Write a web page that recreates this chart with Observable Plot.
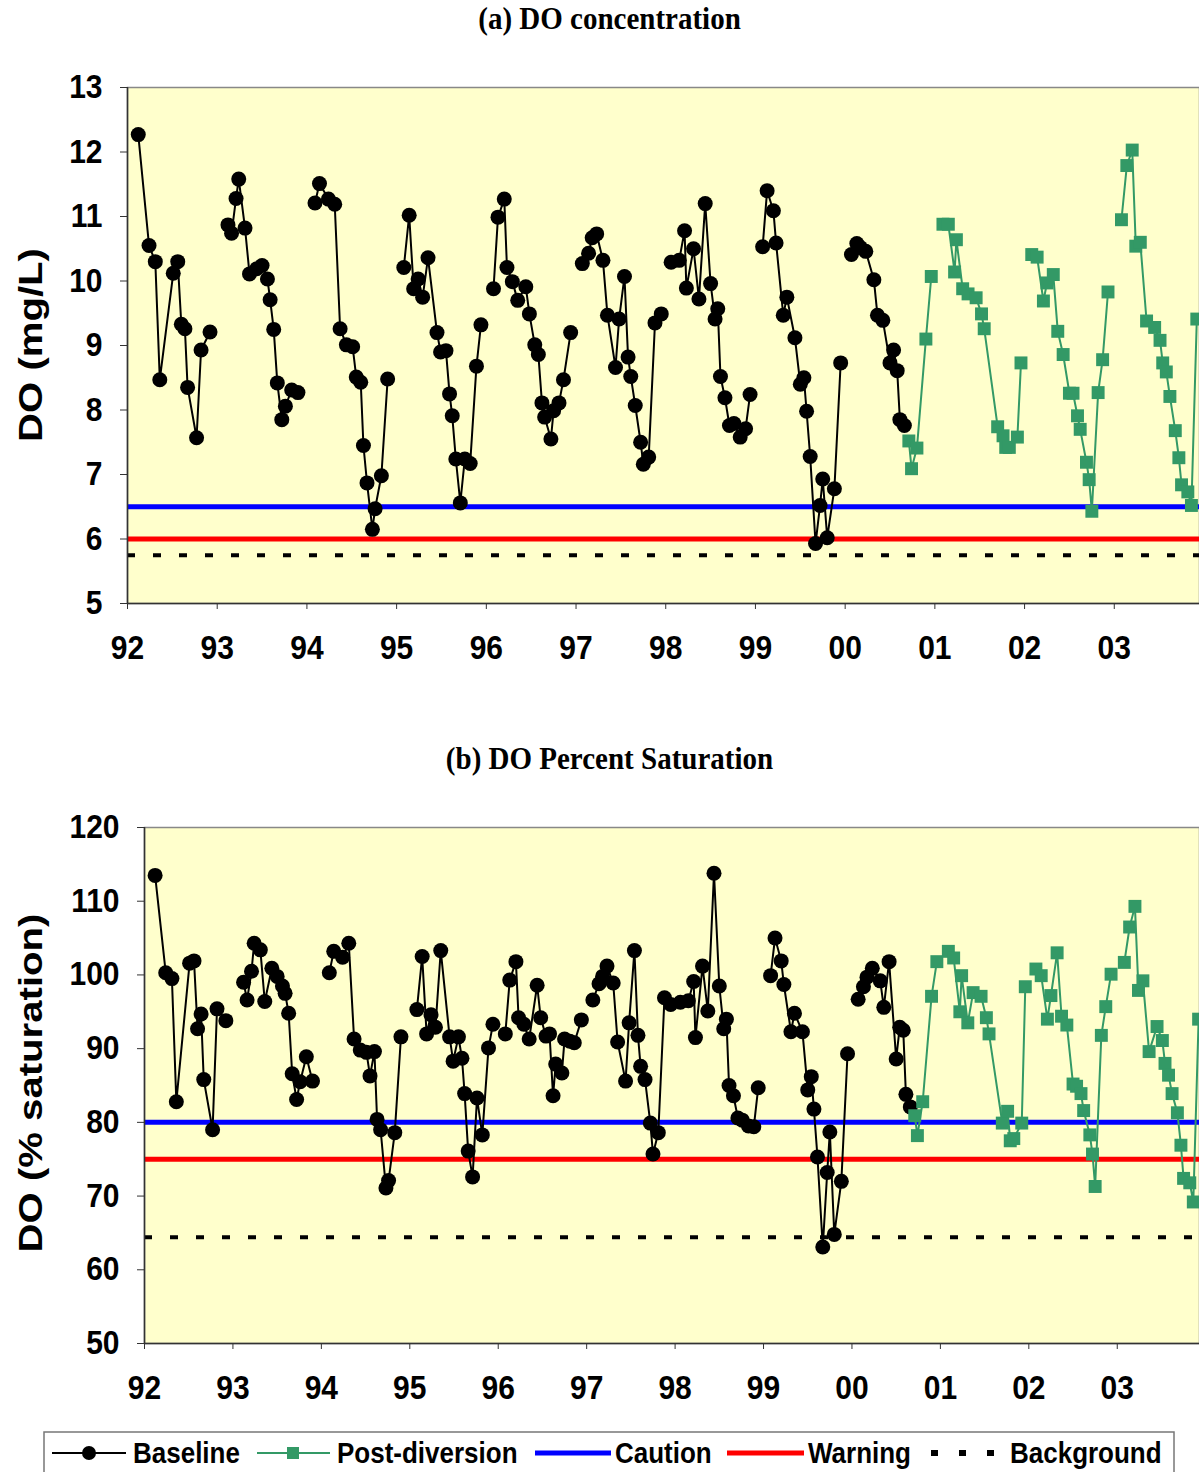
<!DOCTYPE html>
<html>
<head>
<meta charset="utf-8">
<script src="https://cdn.jsdelivr.net/npm/d3@7"></script>
<script src="https://cdn.jsdelivr.net/npm/@observablehq/plot@0.6"></script>
<style>
  body { margin: 0; background: #fff; }
  #root { position: relative; width: 1199px; height: 1472px; overflow: hidden; font-family: "Liberation Sans", Arial, sans-serif; }
  .title { position: absolute; left: 10px; width: 1199px; text-align: center; font-family: "Liberation Serif", "Times New Roman", serif; font-weight: bold; font-size: 29px; line-height: 1; transform: scaleY(1.1); }
  .ylab { position: absolute; font-weight: bold; font-size: 34px; white-space: nowrap; transform: translate(-50%, -50%) rotate(-90deg) scaleX(1.18); line-height: 1; }
  .panel { position: absolute; left: 0; }
</style>
</head>
<body>
<div id="root">
  <div class="title" style="top:4px">(a) DO concentration</div>
  <div class="ylab" style="left:30px; top:345px">DO (mg/L)</div>
  <div class="panel" id="pa" style="top:60px"></div>
  <div class="title" style="top:744px">(b) DO Percent Saturation</div>
  <div class="ylab" style="left:30px; top:1083px">DO (% saturation)</div>
  <div class="panel" id="pb" style="top:800px"></div>
  <div class="panel" id="legend" style="top:1420px"></div>
</div>
<script>
// ---------- data ----------
const baseDates = [
  1992.12,1992.24,1992.31,1992.36,1992.51,1992.56,1992.60,1992.64,1992.67,1992.77,1992.82,1992.92,
  1993.12,1993.16,1993.21,1993.24,1993.31,1993.36,1993.44,1993.50,1993.56,1993.59,1993.63,1993.67,1993.72,1993.76,1993.83,1993.90,
  1994.09,1994.14,1994.24,1994.31,1994.37,1994.44,1994.51,1994.55,1994.60,1994.63,1994.67,1994.73,1994.76,1994.83,1994.90,
  1995.08,1995.14,1995.19,1995.24,1995.29,1995.35,1995.45,1995.49,1995.55,1995.59,1995.62,1995.66,1995.71,1995.76,1995.82,1995.89,1995.94,
  1996.08,1996.13,1996.20,1996.23,1996.29,1996.35,1996.44,1996.48,1996.54,1996.58,1996.62,1996.65,1996.72,1996.75,1996.81,1996.86,1996.94,
  1997.07,1997.14,1997.18,1997.23,1997.30,1997.35,1997.44,1997.48,1997.54,1997.58,1997.61,1997.66,1997.72,1997.75,1997.81,1997.88,1997.95,
  1998.06,1998.15,1998.21,1998.23,1998.31,1998.37,1998.44,1998.50,1998.55,1998.58,1998.61,1998.66,1998.71,1998.76,1998.83,1998.89,1998.94,
  1999.08,1999.13,1999.20,1999.23,1999.31,1999.35,1999.44,1999.50,1999.54,1999.57,1999.61,1999.67,1999.72,1999.75,1999.80,1999.88,1999.95,
  2000.07,2000.13,2000.17,2000.23,2000.32,2000.36,2000.42,2000.50,2000.54,2000.58,2000.61,2000.66
];
const baseDO = [
  12.27,10.55,10.30,8.47,10.12,10.30,9.33,9.26,8.35,7.57,8.93,9.21,
  10.87,10.74,11.28,11.58,10.82,10.11,10.19,10.24,10.03,9.71,9.25,8.42,7.85,8.06,8.31,8.27,
  11.21,11.51,11.27,11.19,9.26,9.01,8.98,8.51,8.43,7.45,6.87,6.15,6.47,6.98,8.48,
  10.21,11.02,9.88,10.03,9.75,10.36,9.20,8.90,8.92,8.25,7.91,7.24,6.56,7.24,7.17,8.68,9.32,
  9.88,10.99,11.27,10.21,9.99,9.70,9.91,9.49,9.01,8.86,8.11,7.89,7.55,7.99,8.11,8.47,9.20,
  10.27,10.43,10.67,10.73,10.32,9.47,8.66,9.41,10.07,8.82,8.52,8.07,7.50,7.16,7.27,9.35,9.49,
  10.29,10.32,10.78,9.89,10.50,9.72,11.20,9.96,9.41,9.57,8.52,8.19,7.76,7.79,7.58,7.71,8.24,
  10.53,11.40,11.09,10.59,9.47,9.75,9.12,8.40,8.50,7.98,7.28,5.93,6.52,6.93,6.02,6.78,8.73,
  10.41,10.58,10.52,10.46,10.02,9.47,9.39,8.73,8.93,8.61,7.85,7.76
];
const baseSat = [
  113.5,100.3,99.5,82.8,101.6,101.9,92.7,94.7,85.8,79.0,95.4,93.8,
  99.0,96.6,100.5,104.3,103.4,96.4,100.9,99.8,98.5,97.5,94.8,86.6,83.1,85.5,88.9,85.6,
  100.3,103.2,102.4,104.3,91.3,89.8,89.5,86.3,89.6,80.4,79.0,71.1,72.1,78.6,91.6,
  95.3,102.5,92.0,94.6,92.9,103.3,91.6,88.3,91.6,88.7,83.9,76.1,72.6,83.3,78.3,90.1,93.3,
  92.0,99.3,101.8,94.2,93.3,91.3,98.6,94.2,91.7,92.0,83.6,87.9,86.7,91.3,91.0,90.8,93.9,
  96.6,98.8,99.8,101.2,98.9,90.9,85.6,93.5,103.3,91.8,87.6,85.8,79.9,75.7,78.6,96.9,96.0,
  96.3,96.5,99.1,91.5,101.2,95.1,113.8,98.5,92.7,94.0,85.0,83.6,80.6,80.3,79.5,79.4,84.7,
  99.9,105.0,101.9,98.7,92.3,94.8,92.3,84.4,86.2,81.8,75.3,63.1,73.2,78.7,64.8,72.0,89.3,
  96.7,98.4,99.7,100.9,99.2,95.6,101.8,88.6,92.9,92.5,83.8,82.1
];
const postDates = [
  2000.71,2000.74,2000.80,2000.90,2000.96,
  2001.09,2001.15,2001.22,2001.24,2001.31,2001.37,2001.46,2001.52,2001.55,2001.70,2001.76,2001.79,2001.83,2001.92,2001.96,
  2002.08,2002.14,2002.21,2002.25,2002.32,2002.37,2002.43,2002.50,2002.54,2002.59,2002.62,2002.69,2002.72,2002.75,2002.82,2002.87,2002.93,
  2003.08,2003.14,2003.20,2003.24,2003.29,2003.36,2003.45,2003.51,2003.54,2003.58,2003.62,2003.68,2003.72,2003.75,2003.82,2003.86,2003.92
];
const postDO = [
  7.52,7.09,7.41,9.10,10.07,
  10.88,10.88,10.14,10.64,9.88,9.80,9.74,9.49,9.26,7.74,7.60,7.42,7.42,7.58,8.73,
  10.41,10.37,9.69,9.97,10.10,9.22,8.86,8.26,8.26,7.91,7.70,7.19,6.92,6.43,8.27,8.78,9.83,
  10.95,11.79,12.03,10.54,10.60,9.38,9.28,9.08,8.73,8.59,8.21,7.68,7.26,6.84,6.73,6.52,9.41
];
const postSat = [
  80.9,78.2,82.8,97.1,101.8,
  103.2,102.3,95.0,99.9,93.5,97.6,97.1,94.2,92.0,79.9,81.5,77.5,77.8,79.9,98.4,
  100.8,99.9,94.0,97.2,103.0,94.4,93.2,85.2,84.9,83.9,81.6,78.3,75.7,71.3,91.8,95.7,100.1,
  101.7,106.5,109.3,97.9,99.2,89.6,93.0,91.1,88.0,86.4,83.9,81.3,76.9,72.4,71.8,69.2,94.0
];
// criteria lines: [caution, warning, background]
const doCriteria = [6.5, 6.0, 5.75];
const satCriteria = [80, 75, 64.4];
const yearTicks = d3.range(1992, 2004);
const doTicks = d3.range(5, 14, 1);
const satTicks = d3.range(50, 121, 10);
const seriesNames = ["Baseline", "Post-diversion", "Caution", "Warning", "Background"];

// ---------- styles ----------
const YELLOW = "#ffffcc", GREEN = "#339966", BLUE = "#0000ff", RED = "#ff0000";
const fmtYear = d => String(d % 100).padStart(2, "0");

function rows(dates, values) {
  return dates.map((d, i) => ({date: d, v: values[i], season: Math.floor(d)}));
}

// stretch text vertically a little, as in the reference
function stretchText(svg, sy) {
  d3.select(svg).selectAll("g[aria-label$='tick label'] text").each(function() {
    const t = this.getAttribute("transform");
    if (t) {
      this.setAttribute("transform", t + ` scale(1,${sy})`);
    } else {
      const x = +this.getAttribute("x") || 0, y = +this.getAttribute("y") || 0;
      this.setAttribute("x", 0); this.setAttribute("y", 0);
      this.setAttribute("transform", `translate(${x},${y}) scale(1,${sy})`);
    }
  });
  return svg;
}

function panel({base, post, criteria, yDomain, yTicks, xMax, marginLeft}) {
  const svg = Plot.plot({
    width: 1199,
    height: 620,
    marginTop: 27,
    marginBottom: 77,
    marginLeft,
    marginRight: 0,
    style: {fontFamily: "'Liberation Sans', Arial, sans-serif", fontSize: "30px", fontWeight: "bold", background: "transparent", color: "#000", overflow: "visible"},
    x: {domain: [1992, xMax], label: null},
    y: {domain: yDomain, label: null},
    marks: [
      Plot.frame({fill: YELLOW, stroke: "#888", strokeWidth: 1.5}),
      Plot.ruleY([criteria[0]], {stroke: BLUE, strokeWidth: 5}),
      Plot.ruleY([criteria[1]], {stroke: RED, strokeWidth: 5}),
      Plot.ruleY([criteria[2]], {stroke: "#000", strokeWidth: 4, strokeDasharray: "8,18"}),
      Plot.line(base, {x: "date", y: "v", z: "season", stroke: "#000", strokeWidth: 2}),
      Plot.dot(base, {x: "date", y: "v", r: 7.5, fill: "#000", stroke: "none"}),
      Plot.line(post, {x: "date", y: "v", z: "season", stroke: GREEN, strokeWidth: 2}),
      Plot.dot(post, {x: "date", y: "v", symbol: "square", r: 7.3, fill: GREEN, stroke: "none"}),
      Plot.axisY({ticks: yTicks, tickSize: 7, tickPadding: 18, stroke: "#333", fontSize: 30, fontWeight: "bold", label: null}),
      Plot.axisX({ticks: yearTicks, tickFormat: fmtYear, tickSize: 6, tickPadding: 26, stroke: "#333", fontSize: 30, fontWeight: "bold", label: null}),
      Plot.ruleX([1992], {stroke: "#333", strokeWidth: 1.5}),
      Plot.ruleY([yDomain[0]], {stroke: "#333", strokeWidth: 1.5})
    ]
  });
  return stretchText(svg, 1.1);
}

document.getElementById("pa").append(panel({
  base: rows(baseDates, baseDO), post: rows(postDates, postDO),
  criteria: doCriteria, yDomain: [5, 13], yTicks: doTicks, xMax: 2003.95, marginLeft: 127
}));
document.getElementById("pb").append(panel({
  base: rows(baseDates, baseSat), post: rows(postDates, postSat),
  criteria: satCriteria, yDomain: [50, 120], yTicks: satTicks, xMax: 2003.93, marginLeft: 144
}));

// ---------- legend ----------
const lg = d3.create("svg").attr("width", 1199).attr("height", 52)
  .style("font-family", "'Liberation Sans', Arial, sans-serif").style("font-weight", "bold").style("font-size", "26px");
lg.append("rect").attr("x", 44).attr("y", 12).attr("width", 1130).attr("height", 60)
  .attr("fill", "#fff").attr("stroke", "#777").attr("stroke-width", 1.5);
const cy = 33;
function label(x, txt) {
  lg.append("text").attr("transform", `translate(${x},${cy}) scale(1,1.12)`).attr("dy", "0.36em").text(txt);
}
// Baseline
lg.append("line").attr("x1", 52).attr("x2", 126).attr("y1", cy).attr("y2", cy).attr("stroke", "#000").attr("stroke-width", 2);
lg.append("circle").attr("cx", 89).attr("cy", cy).attr("r", 7).attr("fill", "#000");
label(133, seriesNames[0]);
// Post-diversion
lg.append("line").attr("x1", 257).attr("x2", 330).attr("y1", cy).attr("y2", cy).attr("stroke", GREEN).attr("stroke-width", 2);
lg.append("rect").attr("x", 287).attr("y", cy - 6).attr("width", 12).attr("height", 12).attr("fill", GREEN);
label(337, seriesNames[1]);
// Caution
lg.append("line").attr("x1", 535).attr("x2", 611).attr("y1", cy).attr("y2", cy).attr("stroke", BLUE).attr("stroke-width", 5);
label(615, seriesNames[2]);
// Warning
lg.append("line").attr("x1", 727).attr("x2", 804).attr("y1", cy).attr("y2", cy).attr("stroke", RED).attr("stroke-width", 5);
label(808, seriesNames[3]);
// Background
lg.append("line").attr("x1", 931).attr("x2", 1000).attr("y1", cy).attr("y2", cy).attr("stroke", "#000").attr("stroke-width", 6).attr("stroke-dasharray", "7,21");
label(1010, seriesNames[4]);
document.getElementById("legend").append(lg.node());
</script>
</body>
</html>
